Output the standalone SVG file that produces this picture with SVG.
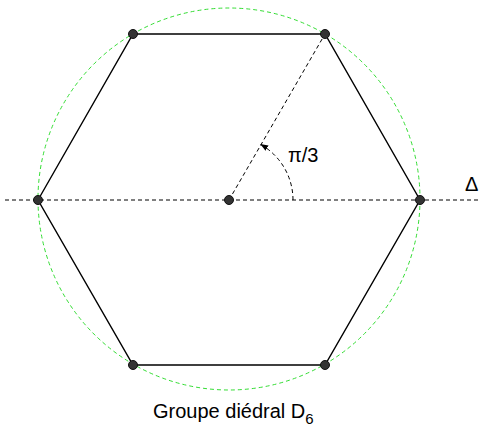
<svg xmlns="http://www.w3.org/2000/svg" width="480" height="427" viewBox="0 0 480 427">
<style>
.dash{fill:none;stroke:#000;stroke-width:1;stroke-dasharray:4,3}
.hex{fill:none;stroke:#000;stroke-width:1.4}
.pt{fill:#333;stroke:#111;stroke-width:1}
text{font-family:"Liberation Sans",Arial,sans-serif;font-size:20px;fill:#000}
</style>
<defs>
<marker id="ah" markerWidth="8" markerHeight="6" refX="7" refY="3" orient="auto" markerUnits="userSpaceOnUse">
<path d="M0,0 L8,3 L0,6 z" fill="#000"/>
</marker>
</defs>
<circle cx="229" cy="199" r="191" fill="none" stroke="#33dd33" stroke-width="1" stroke-dasharray="4,3"/>
<g id="connectors">
<polygon class="hex" points="38,200 133,34 325,34 420,200 325,365 133,365"/>
<line class="dash" x1="5" y1="200" x2="480" y2="200"/>
<line class="dash" x1="229" y1="200" x2="325" y2="34"/>
<path class="dash" d="M293,200 A64,64 0 0 0 261,144.6" marker-end="url(#ah)"/>
</g>
<g id="center"><circle class="pt" cx="229" cy="200" r="4.5"/></g>
<g id="v1"><circle class="pt" cx="38" cy="200" r="4.5"/></g>
<g id="v2"><circle class="pt" cx="133" cy="34" r="4.5"/></g>
<g id="v3"><circle class="pt" cx="325" cy="34" r="4.5"/></g>
<g id="v4"><circle class="pt" cx="420" cy="200" r="4.5"/></g>
<g id="v5"><circle class="pt" cx="325" cy="365" r="4.5"/></g>
<g id="v6"><circle class="pt" cx="133" cy="365" r="4.5"/></g>
<text x="288" y="162">π/3</text>
<text x="465" y="191">Δ</text>
<text x="153" y="418">Groupe diédral D<tspan font-size="15" dy="6">6</tspan></text>
</svg>
